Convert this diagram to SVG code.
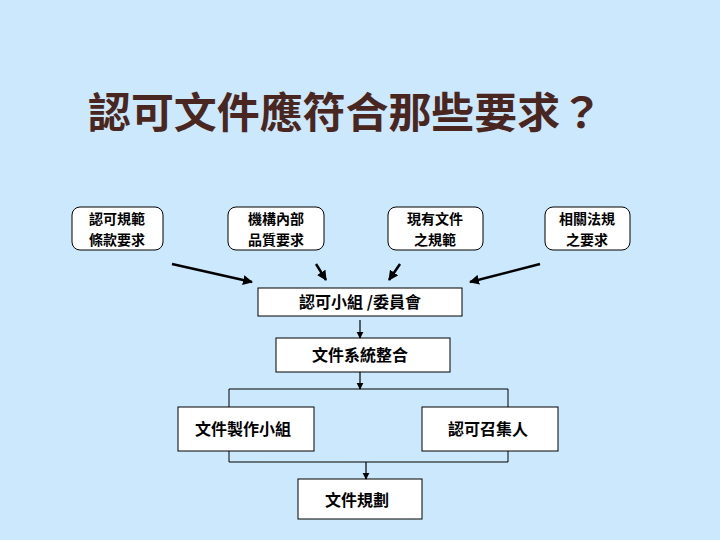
<svg xmlns="http://www.w3.org/2000/svg" width="720" height="540" viewBox="0 0 720 540">
<defs>
<style>
.t{font-family:"Noto Sans CJK TC","Liberation Sans",sans-serif;font-weight:bold;font-size:16px;fill:#000;text-anchor:middle}
.t2{font-family:"Noto Sans CJK TC","Liberation Sans",sans-serif;font-weight:bold;font-size:14px;fill:#000;text-anchor:middle}
.b{fill:#fff;stroke:#000;stroke-width:1}
.c{stroke:#000;stroke-width:1;fill:none}
.a{stroke:#000;stroke-width:2.5;fill:none;marker-end:url(#ah)}
.s{stroke:#000;stroke-width:1.2;fill:none;marker-end:url(#ah2)}
</style>
<marker id="ah" viewBox="0 0 10 10" refX="9" refY="5" markerWidth="4" markerHeight="4" orient="auto"><path d="M0,0L10,5L0,10z" fill="#000"/></marker>
<marker id="ah2" viewBox="0 0 10 10" refX="9" refY="5" markerWidth="6" markerHeight="6" orient="auto"><path d="M0,0L10,5L0,10z" fill="#000"/></marker>
</defs>
<rect width="720" height="540" fill="#cce8fc"/>
<text x="88" y="128" font-family="'Noto Sans CJK TC','Liberation Sans',sans-serif" font-weight="bold" font-size="42" fill="#4a2620" textLength="515" lengthAdjust="spacingAndGlyphs">認可文件應符合那些要求？</text>
<g id="n1"><rect class="b" x="72" y="207" width="91" height="43" rx="8"/><text class="t2" x="117" y="224">認可規範</text><text class="t2" x="117" y="245">條款要求</text></g>
<g id="n2"><rect class="b" x="228" y="207" width="96" height="43" rx="8"/><text class="t2" x="276" y="224">機構內部</text><text class="t2" x="276" y="245">品質要求</text></g>
<g id="n3"><rect class="b" x="388" y="207" width="95" height="43" rx="8"/><text class="t2" x="435" y="224">現有文件</text><text class="t2" x="435" y="245">之規範</text></g>
<g id="n4"><rect class="b" x="545" y="207" width="85" height="43" rx="8"/><text class="t2" x="587" y="224">相關法規</text><text class="t2" x="587" y="245">之要求</text></g>
<g id="n5"><rect class="b" x="258" y="288" width="204" height="28"/><text class="t" x="360" y="308">認可小組 /委員會</text></g>
<g id="n6"><rect class="b" x="276" y="338" width="174" height="34"/><text class="t" x="360" y="361">文件系統整合</text></g>
<g id="n7"><rect class="b" x="178" y="407" width="136" height="44"/><text class="t" x="243" y="435">文件製作小組</text></g>
<g id="n8"><rect class="b" x="422" y="407" width="136" height="44"/><text class="t" x="488" y="435">認可召集人</text></g>
<g id="n9"><rect class="b" x="298" y="479" width="124" height="40"/><text class="t" x="357" y="506">文件規劃</text></g>
<g id="edges">
<line class="a" x1="172" y1="264" x2="252" y2="282"/>
<line class="a" x1="316" y1="264" x2="326" y2="280"/>
<line class="a" x1="400" y1="264" x2="389" y2="280"/>
<line class="a" x1="540" y1="264" x2="470" y2="282"/>
<line class="s" x1="360" y1="320" x2="360" y2="338"/>
<line class="s" x1="360" y1="372" x2="360" y2="389"/>
<path class="c" d="M229,407V389H508V407"/>
<path class="c" d="M229,451V462H508V451"/>
<line class="s" x1="366" y1="462" x2="366" y2="479"/>
</g>
</svg>
